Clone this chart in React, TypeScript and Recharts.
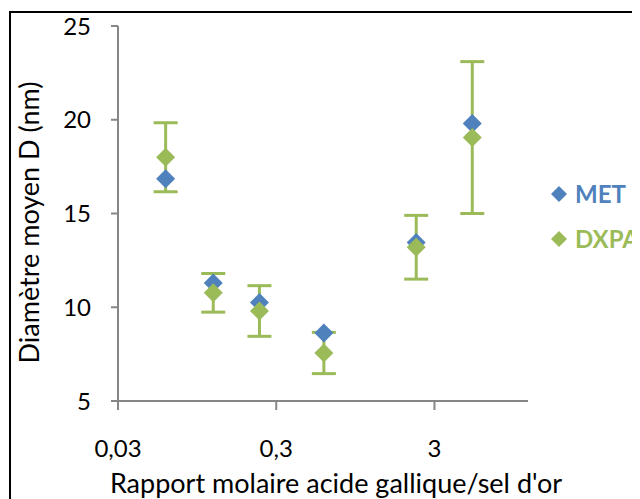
import { ScatterChart, Scatter, XAxis, YAxis, ErrorBar, Legend } from 'recharts';

// Rapport molaire acide gallique / sel d'or (échelle log)
const ratios = [0.06, 0.12, 0.235, 0.6, 2.3, 5.2];
const metValues = [16.85, 11.3, 10.25, 8.63, 13.45, 19.8];
const dxpaValues = [18.0, 10.77, 9.8, 7.56, 13.2, 19.05];
const dxpaErrors = [1.84, 1.03, 1.35, 1.1, 1.7, 4.05];

const xTicks = [0.03, 0.3, 3];
const yTicks = [5, 10, 15, 20, 25];
const seriesNames = ['MET', 'DXPA'];

const BLUE = '#4F81BD';
const GREEN = '#9BBB59';
const AXIS = '#868686';
const FONT = 'Lato, "Open Sans", sans-serif';

const metData = ratios.map((x, i) => ({ x, y: metValues[i] }));
const dxpaData = ratios.map((x, i) => ({ x, y: dxpaValues[i], err: dxpaErrors[i] }));

function Diamond(props: any) {
  const { cx, cy, fill } = props;
  const r = 9.5;
  return (
    <polygon
      points={`${cx},${cy - r} ${cx + r},${cy} ${cx},${cy + r} ${cx - r},${cy}`}
      fill={fill}
    />
  );
}

const Empty = () => <g />;

function LegendBox({ payload }: any) {
  const items = seriesNames
    .map((n) => (payload || []).find((p: any) => p.value === n))
    .filter(Boolean);
  return (
    <div>
      {items.map((p: any) => (
        <div key={p.value} style={{ display: 'flex', alignItems: 'center', height: 45 }}>
          <svg width={18} height={18} style={{ marginRight: 7 }}>
            <polygon points="9,1 17,9 9,17 1,9" fill={p.color} />
          </svg>
          <span style={{ fontFamily: FONT, fontWeight: 700, fontSize: 24, color: p.color }}>
            {p.value}
          </span>
        </div>
      ))}
    </div>
  );
}

const fmt = (v: number) => String(v).replace('.', ',');

export default function App() {
  return (
    <div style={{ position: 'relative', width: 632, height: 491, overflow: 'hidden' }}>
      <div
        style={{
          position: 'absolute',
          left: 1,
          top: 3,
          width: 800,
          height: 800,
          border: '2px solid #000',
        }}
      />
      <div style={{ position: 'absolute', left: 0, top: 0 }}>
        <ScatterChart width={632} height={491} margin={{ top: 18, right: 112, bottom: 38, left: 0 }}>
          <XAxis
            type="number"
            dataKey="x"
            scale="log"
            domain={[0.03, 11.7]}
            allowDataOverflow
            ticks={xTicks}
            tickFormatter={fmt}
            height={60}
            stroke={AXIS}
            strokeWidth={2}
            tickSize={9}
            tickMargin={30}
            tick={{ fill: '#000', fontSize: 24, fontFamily: FONT }}
            label={{
              content: ({ viewBox }: any) => (
                <text
                  x={viewBox.x + viewBox.width / 2 + 13}
                  y={485}
                  textAnchor="middle"
                  fill="#000"
                  fontSize={27}
                  fontFamily={FONT}
                >
                  Rapport molaire acide gallique/sel d'or
                </text>
              ),
            }}
          />
          <YAxis
            type="number"
            dataKey="y"
            domain={[5, 25]}
            ticks={yTicks}
            width={110}
            stroke={AXIS}
            strokeWidth={2}
            tickSize={7}
            tickMargin={20}
            tick={{ fill: '#000', fontSize: 24, fontFamily: FONT }}
            label={{
              content: ({ viewBox }: any) => {
                const cx = 20;
                const cy = viewBox.y + viewBox.height / 2 + 9;
                return (
                  <text
                    x={cx}
                    y={cy}
                    transform={`rotate(-90 ${cx} ${cy})`}
                    textAnchor="middle"
                    dominantBaseline="central"
                    fill="#000"
                    fontSize={27}
                    fontFamily={FONT}
                  >
                    Diamètre moyen D (nm)
                  </text>
                );
              },
            }}
          />
          <Legend
            layout="horizontal"
            verticalAlign="middle"
            align="center"
            content={<LegendBox />}
            wrapperStyle={{ position: 'absolute', left: 542, top: 163, width: 120 }}
          />
          {/* barres d'erreur DXPA sous tous les marqueurs */}
          <Scatter
            data={dxpaData}
            fill={GREEN}
            shape={<Empty />}
            legendType="none"
            isAnimationActive={false}
          >
            <ErrorBar dataKey="err" direction="y" width={12} strokeWidth={3} stroke={GREEN} />
          </Scatter>
          <Scatter name="MET" data={metData} fill={BLUE} shape={<Diamond />} isAnimationActive={false} />
          <Scatter name="DXPA" data={dxpaData} fill={GREEN} shape={<Diamond />} isAnimationActive={false} />
        </ScatterChart>
      </div>
    </div>
  );
}
